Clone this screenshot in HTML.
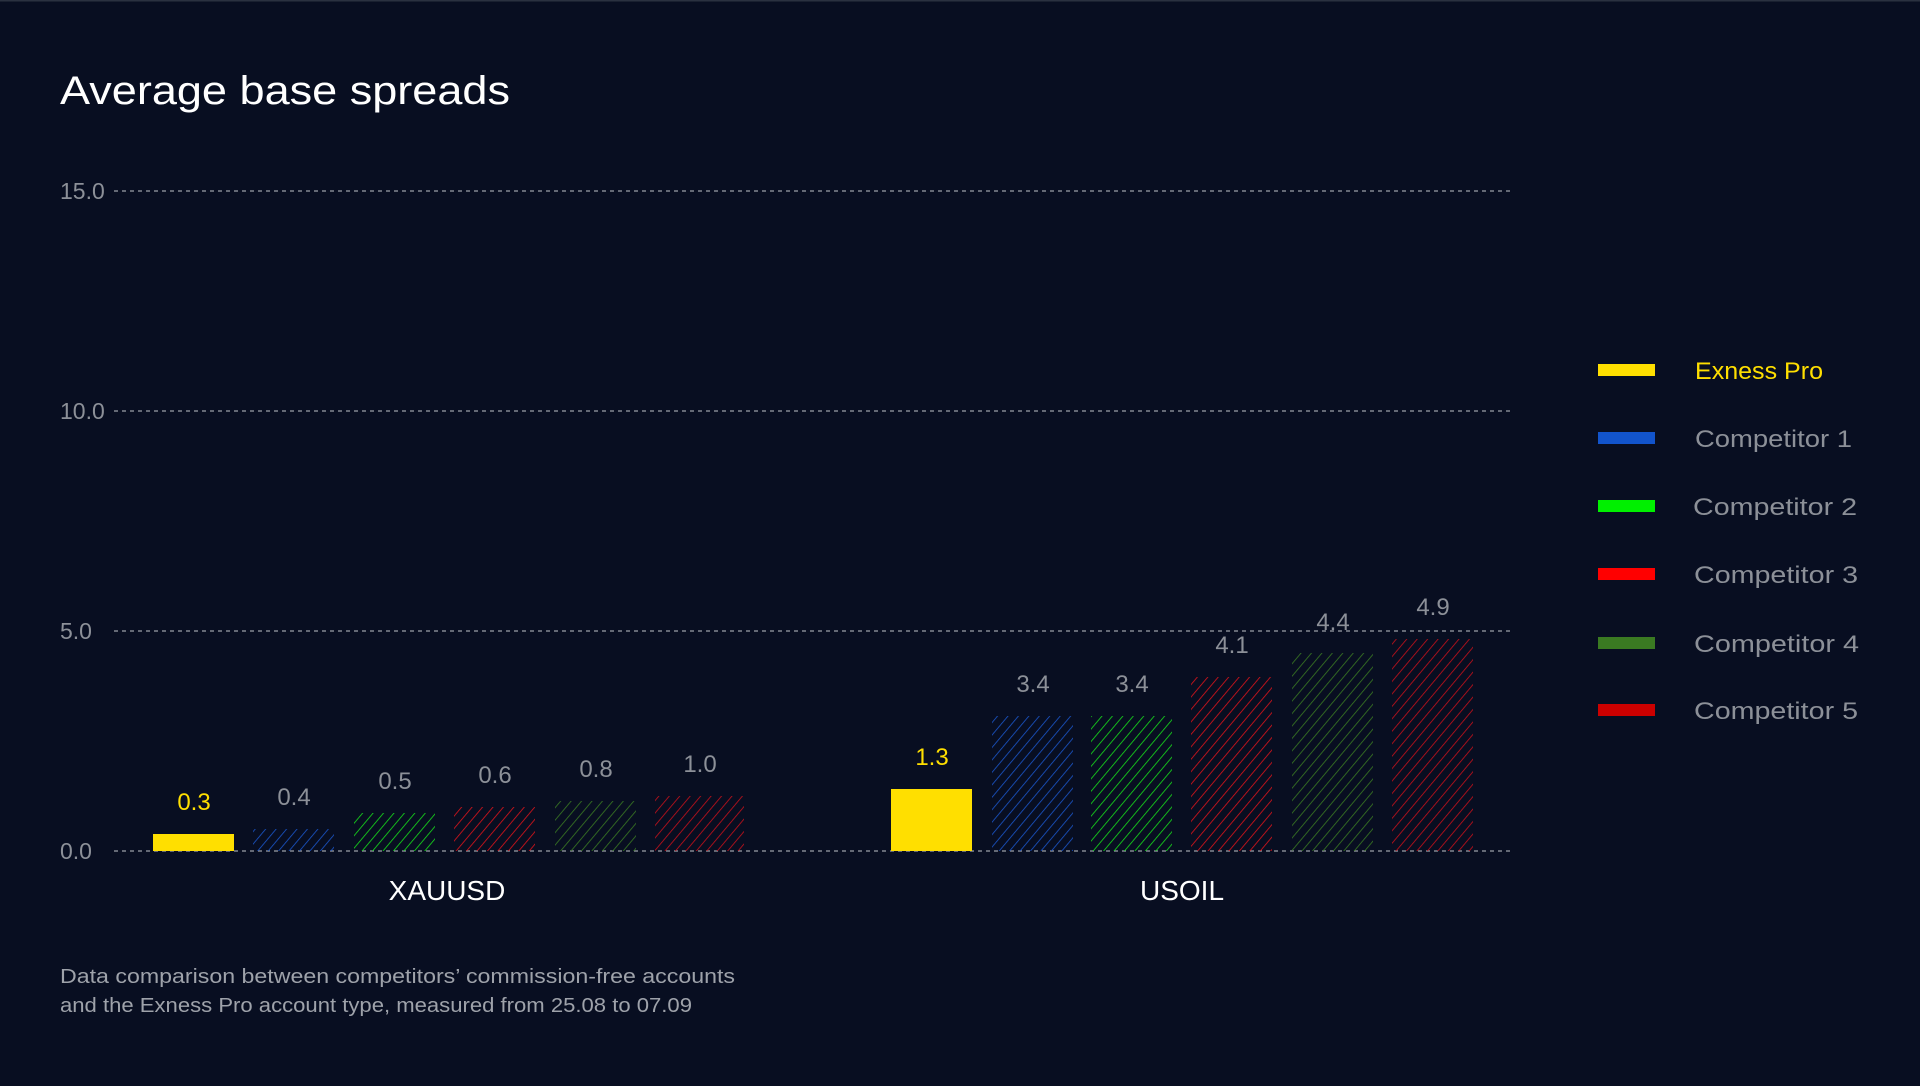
<!DOCTYPE html>
<html><head><meta charset="utf-8"><style>
html,body{margin:0;padding:0;background:#080e21;}
body{width:1920px;height:1081px;overflow:hidden;font-family:"Liberation Sans",sans-serif;}
</style></head><body>
<svg width="1920" height="1081" xmlns="http://www.w3.org/2000/svg" font-family="Liberation Sans, sans-serif">
<defs>
<pattern id="hb" width="8" height="8" patternUnits="userSpaceOnUse" patternTransform="rotate(40)"><line x1="0" y1="0" x2="0" y2="8" stroke="#1a56cc" stroke-width="1.6"/></pattern>
<pattern id="hg" width="8" height="8" patternUnits="userSpaceOnUse" patternTransform="rotate(40)"><line x1="0" y1="0" x2="0" y2="8" stroke="#16e01a" stroke-width="1.6"/></pattern>
<pattern id="hr" width="8" height="8" patternUnits="userSpaceOnUse" patternTransform="rotate(40)"><line x1="0" y1="0" x2="0" y2="8" stroke="#e0131a" stroke-width="1.6"/></pattern>
<pattern id="hd" width="8" height="8" patternUnits="userSpaceOnUse" patternTransform="rotate(40)"><line x1="0" y1="0" x2="0" y2="8" stroke="#3a7a22" stroke-width="1.6"/></pattern>
<pattern id="hr5" width="8" height="8" patternUnits="userSpaceOnUse" patternTransform="rotate(40)"><line x1="0" y1="0" x2="0" y2="8" stroke="#c8101a" stroke-width="1.6"/></pattern>
</defs>
<rect x="0" y="0" width="1920" height="1.5" fill="#2a3140"/>
<text x="60" y="104" font-size="40" fill="#ffffff" textLength="450" lengthAdjust="spacingAndGlyphs">Average base spreads</text>
<g stroke="#9aa0a8" stroke-width="1.3" stroke-dasharray="4,4">
<line x1="114" y1="191" x2="1513" y2="191"/>
<line x1="114" y1="411" x2="1513" y2="411"/>
<line x1="114" y1="631" x2="1513" y2="631"/>
<line x1="114" y1="851" x2="1513" y2="851"/>
</g>
<g font-size="23" fill="#8c9098">
<text x="60" y="199">15.0</text>
<text x="60" y="419">10.0</text>
<text x="60" y="639">5.0</text>
<text x="60" y="859">0.0</text>
</g>
<rect x="153" y="834" width="81" height="17" fill="#ffdf00"/>
<rect x="253" y="829" width="81" height="22" fill="url(#hb)"/>
<rect x="354" y="813" width="81" height="38" fill="url(#hg)"/>
<rect x="454" y="807" width="81" height="44" fill="url(#hr)"/>
<rect x="555" y="801" width="81" height="50" fill="url(#hd)"/>
<rect x="655" y="796" width="89" height="55" fill="url(#hr5)"/>
<rect x="891" y="789" width="81" height="62" fill="#ffdf00"/>
<rect x="992" y="716" width="81" height="135" fill="url(#hb)"/>
<rect x="1091" y="716" width="81" height="135" fill="url(#hg)"/>
<rect x="1191" y="677" width="81" height="174" fill="url(#hr)"/>
<rect x="1292" y="653" width="81" height="198" fill="url(#hd)"/>
<rect x="1392" y="639" width="81" height="212" fill="url(#hr5)"/>
<g font-size="24" text-anchor="middle" fill="#8c9098">
<text x="194" y="810" fill="#ffdf00">0.3</text>
<text x="294" y="805">0.4</text>
<text x="395" y="789">0.5</text>
<text x="495" y="783">0.6</text>
<text x="596" y="777">0.8</text>
<text x="700" y="772">1.0</text>
<text x="932" y="765" fill="#ffdf00">1.3</text>
<text x="1033" y="692">3.4</text>
<text x="1132" y="692">3.4</text>
<text x="1232" y="653">4.1</text>
<text x="1333" y="630">4.4</text>
<text x="1433" y="615">4.9</text>
</g>
<g font-size="28" fill="#ffffff" text-anchor="middle">
<text x="447" y="900">XAUUSD</text>
<text x="1182" y="900">USOIL</text>
</g>
<g font-size="20" fill="#9ea2aa">
<text x="60" y="983" textLength="675" lengthAdjust="spacingAndGlyphs">Data comparison between competitors’ commission-free accounts</text>
<text x="60" y="1012" textLength="632" lengthAdjust="spacingAndGlyphs">and the Exness Pro account type, measured from 25.08 to 07.09</text>
</g>
<g>
<rect x="1598" y="364" width="57" height="12" fill="#ffdf00"/>
<rect x="1598" y="432" width="57" height="12" fill="#1254cc"/>
<rect x="1598" y="500" width="57" height="12" fill="#00f000"/>
<rect x="1598" y="568" width="57" height="12" fill="#ff0000"/>
<rect x="1598" y="637" width="57" height="12" fill="#3a7a22"/>
<rect x="1598" y="704" width="57" height="12" fill="#cc0000"/>
</g>
<g font-size="24" fill="#8c9098" lengthAdjust="spacingAndGlyphs">
<text x="1695" y="379" fill="#ffdf00" textLength="128" lengthAdjust="spacingAndGlyphs">Exness Pro</text>
<text x="1695" y="447" textLength="157" lengthAdjust="spacingAndGlyphs">Competitor 1</text>
<text x="1693" y="515" textLength="164" lengthAdjust="spacingAndGlyphs">Competitor 2</text>
<text x="1694" y="583" textLength="164" lengthAdjust="spacingAndGlyphs">Competitor 3</text>
<text x="1694" y="652" textLength="165" lengthAdjust="spacingAndGlyphs">Competitor 4</text>
<text x="1694" y="719" textLength="164" lengthAdjust="spacingAndGlyphs">Competitor 5</text>
</g>
</svg>
</body></html>
